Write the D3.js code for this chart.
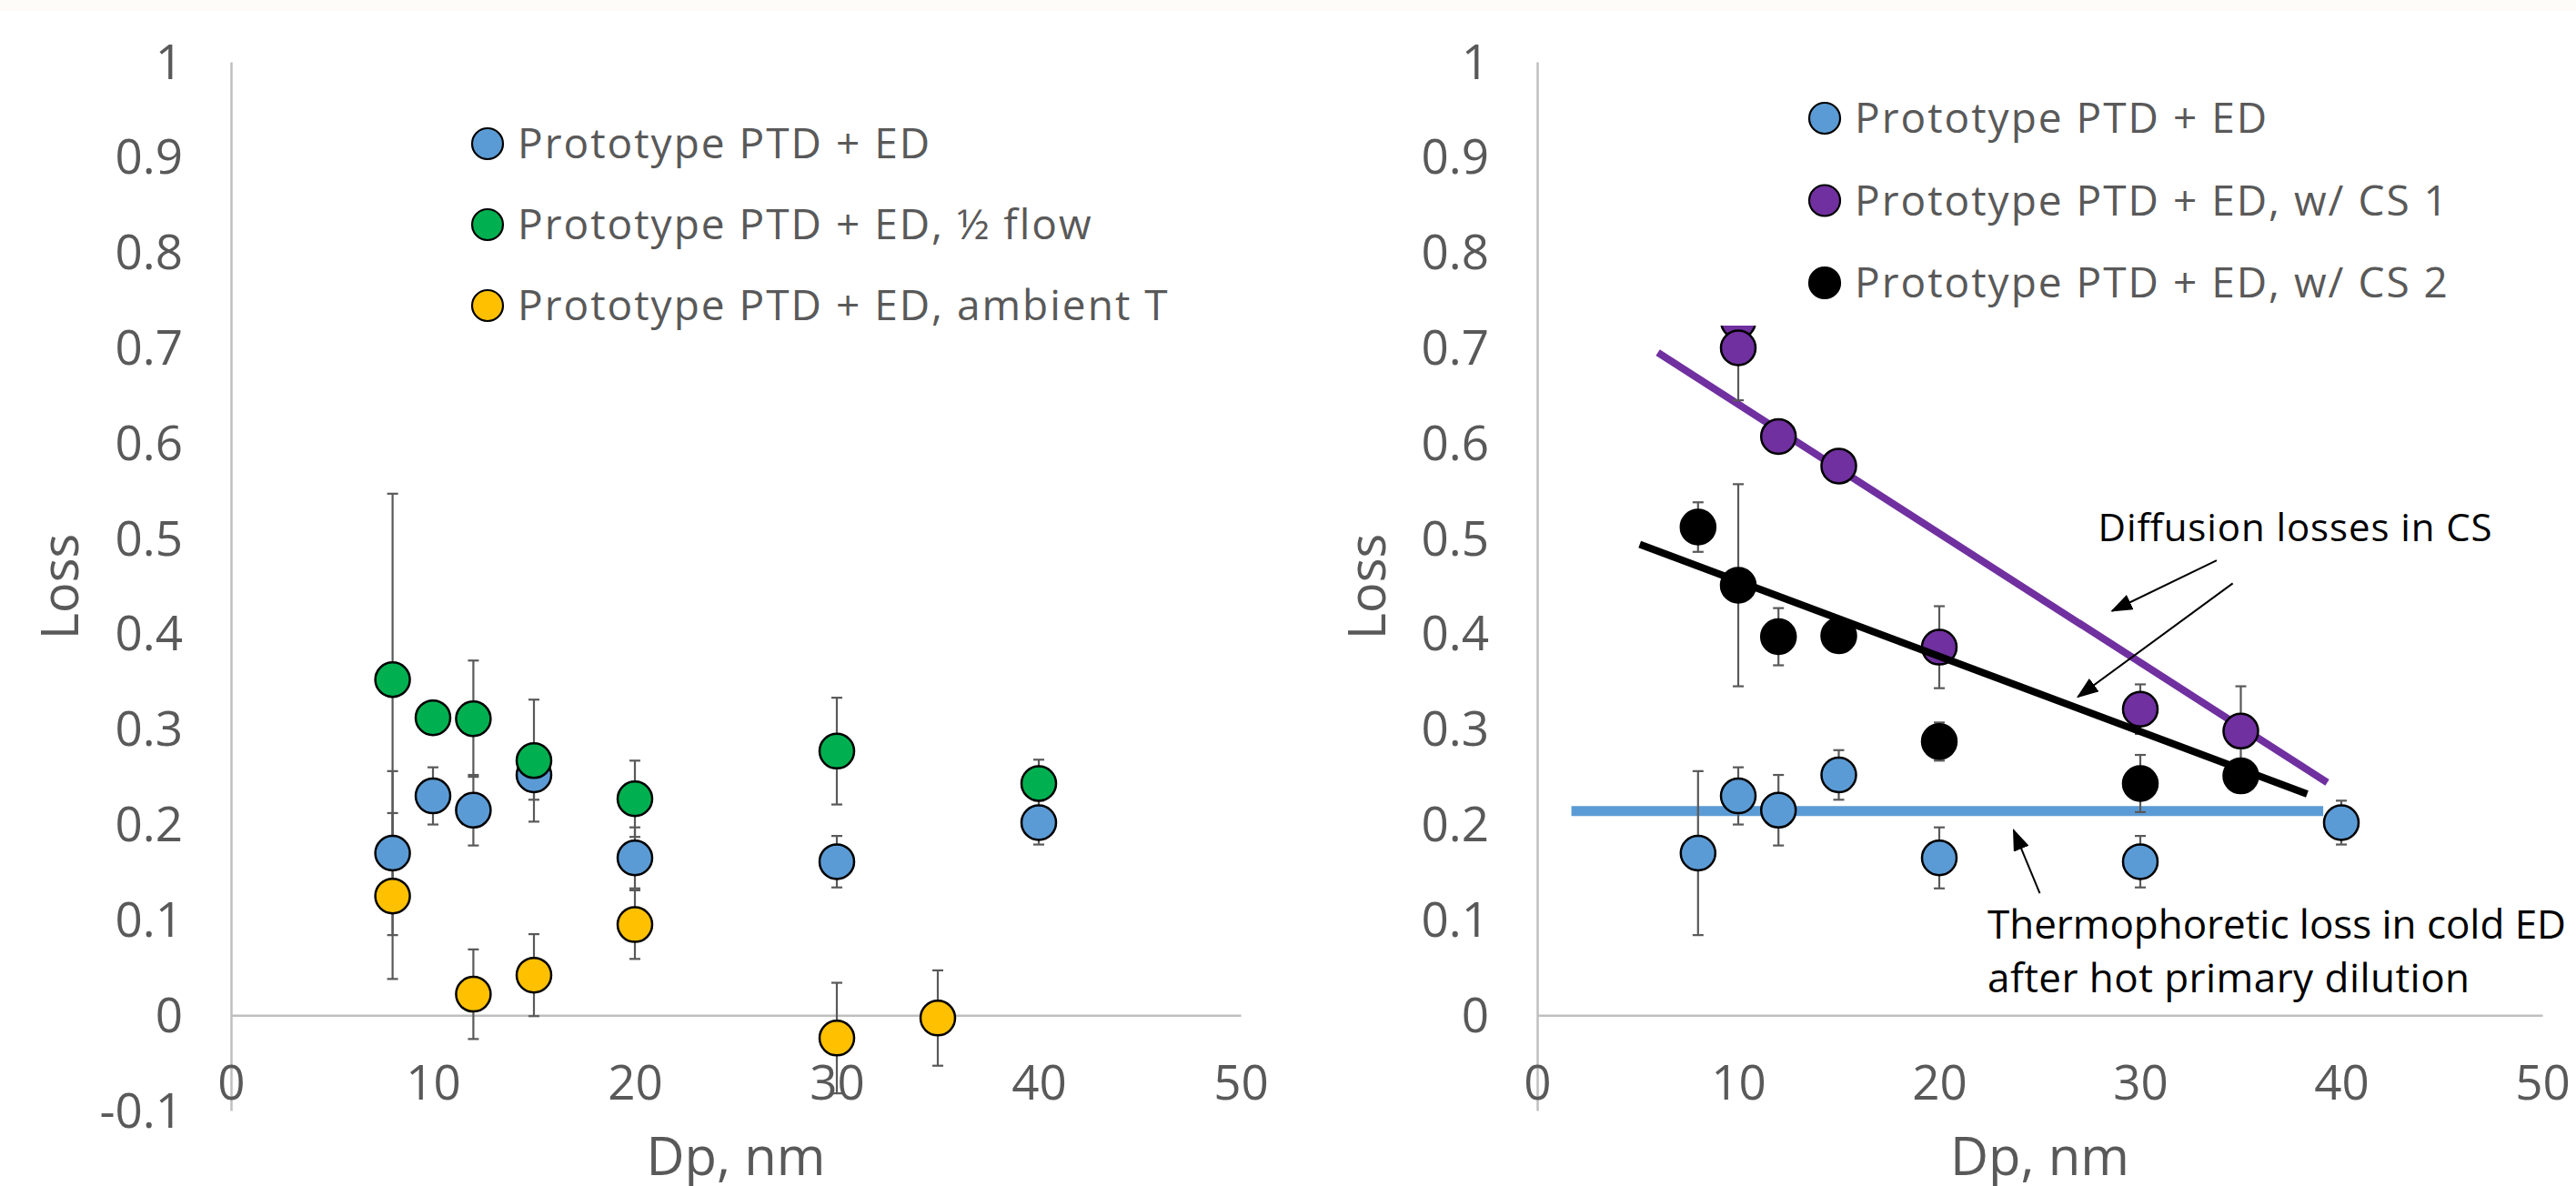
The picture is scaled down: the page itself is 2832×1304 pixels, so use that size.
<!DOCTYPE html>
<html lang="en">
<head>
<meta charset="utf-8" />
<title>Loss vs Dp</title>
<script src="https://d3js.org/d3.v7.min.js"></script>
<style>
    body { margin: 0; background: #fff; }
    svg { display: block; font-family: "Open Sans", sans-serif; }
</style>
</head>
<body>
<script>
    // ---- data ----
    var xTicks = [0, 10, 20, 30, 40, 50];
    var yTicksLeft = [-0.1, 0, 0.1, 0.2, 0.3, 0.4, 0.5, 0.6, 0.7, 0.8, 0.9, 1];
    var yTicksRight = [0, 0.1, 0.2, 0.3, 0.4, 0.5, 0.6, 0.7, 0.8, 0.9, 1];

    // Prototype PTD + ED (same in both panels)
    var blueDp = [8, 10, 12, 15, 20, 30, 40];
    var blueLoss = [0.170, 0.230, 0.215, 0.252, 0.165, 0.161, 0.202];
    var blueErr = [0.086, 0.030, 0.037, 0.026, 0.032, 0.027, 0.023];
    // Prototype PTD + ED, 1/2 flow
    var greenDp = [8, 10, 12, 15, 20, 30, 40];
    var greenLoss = [0.352, 0.312, 0.311, 0.267, 0.227, 0.277, 0.243];
    var greenErr = [0.195, 0.012, 0.061, 0.064, 0.040, 0.056, 0.025];
    // Prototype PTD + ED, ambient T
    var yellowDp = [8, 12, 15, 20, 30, 35];
    var yellowLoss = [0.125, 0.022, 0.042, 0.095, -0.024, -0.003];
    var yellowErr = [0.087, 0.047, 0.043, 0.036, 0.058, 0.050];
    // Prototype PTD + ED, w/ CS 1
    var purpleDp = [10, 10, 12, 15, 20, 30, 35];
    var purpleLoss = [0.728, 0.700, 0.607, 0.576, 0.386, 0.321, 0.298];
    var purpleErr = [0.010, 0.055, 0.012, 0.012, 0.043, 0.026, 0.047];
    // Prototype PTD + ED, w/ CS 2
    var blackDp = [8, 10, 12, 15, 20, 30, 35];
    var blackLoss = [0.512, 0.451, 0.397, 0.398, 0.287, 0.243, 0.251];
    var blackErr = [0.026, 0.106, 0.030, 0.012, 0.020, 0.030, 0.012];

    // hand drawn guide lines on the right panel, [Dp, Loss] end points
    var blueGuide = [[1.7, 0.214], [39.1, 0.214]];
    var purpleGuide = [[6.0, 0.695], [39.3, 0.244]];
    var blackGuide = [[5.1, 0.494], [38.3, 0.232]];

    // annotation arrows, [tail, tip] in Dp / Loss units
    var arrows = [
        [[33.8, 0.477], [28.6, 0.424]],
        [[34.6, 0.453], [26.9, 0.334]],
        [[25.0, 0.128], [23.7, 0.194]]
    ];

    var w = 2832, h = 1304;
    var grey = "#595959";

    function series(dp, loss, err) {
        return dp.map(function (d, i) { return { dp: d, loss: loss[i], err: err[i] }; });
    }

    var svg = d3.select("body").append("svg")
        .attr("width", w)
        .attr("height", h);

    // faint strip at the very top of the page
    svg.append("rect").attr("x", 0).attr("y", 0).attr("width", w).attr("height", 12).attr("fill", "#fdfcf9");

    var defs = svg.append("defs");
    defs.append("marker")
        .attr("id", "arrowhead")
        .attr("markerUnits", "userSpaceOnUse")
        .attr("markerWidth", 24).attr("markerHeight", 18)
        .attr("refX", 22).attr("refY", 9)
        .attr("orient", "auto")
        .append("path")
        .attr("d", "M0,0 L24,9 L0,18 Z")
        .attr("fill", "#000");

    function panel(left, right, yTicks, yLabelX) {
        var x = d3.scaleLinear().domain([0, 50]).range([left, right]);
        var y = d3.scaleLinear().domain([-0.1, 1]).range([1221, 68]);
        var g = svg.append("g");

        // y axis
        var yAxis = d3.axisLeft(y)
            .tickValues(yTicks)
            .tickSize(0)
            .tickPadding(53)
            .tickFormat(function (d) { return String(+d.toFixed(1)); });
        var ya = g.append("g").attr("transform", "translate(" + left + ",0)").call(yAxis);
        ya.select(".domain").attr("stroke", "#bfbfbf").attr("stroke-width", 2.5);
        ya.selectAll("text").attr("font-size", "53px").attr("font-family", "Open Sans").attr("fill", grey).attr("dy", "0.34em");

        // x axis sitting on Loss = 0
        var xAxis = d3.axisBottom(x)
            .tickValues(xTicks)
            .tickSize(0)
            .tickPadding(55);
        var xa = g.append("g").attr("transform", "translate(0," + y(0) + ")").call(xAxis);
        xa.select(".domain").attr("stroke", "#bfbfbf").attr("stroke-width", 2.5);
        xa.selectAll("text").attr("font-size", "53px").attr("font-family", "Open Sans").attr("fill", grey);

        // axis titles
        g.append("text")
            .attr("transform", "translate(" + yLabelX + "," + 645 + ") rotate(-90)")
            .attr("text-anchor", "middle")
            .attr("font-size", "56px")
            .attr("fill", grey)
            .text("Loss");
        g.append("text")
            .attr("x", (left + right) / 2)
            .attr("y", 1292)
            .attr("text-anchor", "middle")
            .attr("font-size", "58px")
            .attr("fill", grey)
            .text("Dp, nm");

        return { g: g, x: x, y: y };
    }

    function errorBars(p, data) {
        var eg = p.g.append("g").attr("stroke", grey).attr("stroke-width", 2.2);
        data.forEach(function (d) {
            var cx = p.x(d.dp), y1 = p.y(d.loss - d.err), y2 = p.y(d.loss + d.err);
            eg.append("line").attr("x1", cx).attr("x2", cx).attr("y1", y1).attr("y2", y2);
            eg.append("line").attr("x1", cx - 6).attr("x2", cx + 6).attr("y1", y1).attr("y2", y1);
            eg.append("line").attr("x1", cx - 6).attr("x2", cx + 6).attr("y1", y2).attr("y2", y2);
        });
    }

    function markers(p, data, color) {
        p.g.append("g").selectAll("circle")
            .data(data)
            .enter()
            .append("circle")
            .attr("cx", function (d) { return p.x(d.dp); })
            .attr("cy", function (d) { return p.y(d.loss); })
            .attr("r", 19)
            .attr("fill", color)
            .attr("stroke", "#000")
            .attr("stroke-width", 2.5);
    }

    function guide(p, pts, color, width) {
        p.g.append("path")
            .attr("d", d3.line().x(function (d) { return p.x(d[0]); }).y(function (d) { return p.y(d[1]); })(pts))
            .attr("fill", "none")
            .attr("stroke", color)
            .attr("stroke-width", width);
    }

    function legend(p, x0, y0, step, items) {
        var lg = p.g.append("g");
        items.forEach(function (it, i) {
            lg.append("circle")
                .attr("cx", x0).attr("cy", y0 + i * step).attr("r", 17)
                .attr("fill", it[1]).attr("stroke", "#000").attr("stroke-width", 2.2);
            lg.append("text")
                .attr("x", x0 + 33).attr("y", y0 + i * step + 16)
                .attr("font-size", "46px").attr("letter-spacing", "2px").attr("fill", grey)
                .text(it[0]);
        });
    }

    var blue = series(blueDp, blueLoss, blueErr);
    var green = series(greenDp, greenLoss, greenErr);
    var yellow = series(yellowDp, yellowLoss, yellowErr);
    var purple = series(purpleDp, purpleLoss, purpleErr);
    var black = series(blackDp, blackLoss, blackErr);

    // ---- left panel ----
    var L = panel(254, 1364, yTicksLeft, 86);
    errorBars(L, blue); errorBars(L, green); errorBars(L, yellow);
    markers(L, blue, "#5b9bd5");
    markers(L, green, "#00b050");
    markers(L, yellow, "#ffc000");
    legend(L, 536, 158, 89, [
        ["Prototype PTD + ED", "#5b9bd5"],
        ["Prototype PTD + ED, \u00bd flow", "#00b050"],
        ["Prototype PTD + ED, ambient T", "#ffc000"]
    ]);

    // ---- right panel ----
    var R = panel(1690, 2795, yTicksRight, 1523);
    guide(R, blueGuide, "#5b9bd5", 11);
    guide(R, purpleGuide, "#7030a0", 8);
    errorBars(R, blue); errorBars(R, purple); errorBars(R, black);
    markers(R, blue, "#5b9bd5");
    markers(R, purple, "#7030a0");
    markers(R, black, "#000");
    guide(R, blackGuide, "#000", 8);

    // annotations
    arrows.forEach(function (a) {
        R.g.append("line")
            .attr("x1", R.x(a[0][0])).attr("y1", R.y(a[0][1]))
            .attr("x2", R.x(a[1][0])).attr("y2", R.y(a[1][1]))
            .attr("stroke", "#000").attr("stroke-width", 2)
            .attr("marker-end", "url(#arrowhead)");
    });
    R.g.append("text")
        .attr("x", R.x(27.9)).attr("y", R.y(0.497))
        .attr("font-size", "42px").attr("fill", "#000")
        .attr("textLength", 433).attr("lengthAdjust", "spacing")
        .text("Diffusion losses in CS");
    R.g.append("text")
        .attr("x", R.x(22.4)).attr("y", R.y(0.0805))
        .attr("font-size", "44px").attr("fill", "#000")
        .attr("textLength", 636).attr("lengthAdjust", "spacing")
        .text("Thermophoretic loss in cold ED");
    R.g.append("text")
        .attr("x", R.x(22.4)).attr("y", R.y(0.0805) + 59)
        .attr("font-size", "44px").attr("fill", "#000")
        .attr("textLength", 530).attr("lengthAdjust", "spacing")
        .text("after hot primary dilution");

    // legend box sits over the plot and hides what is behind it
    R.g.append("rect")
        .attr("x", 1880).attr("y", 72)
        .attr("width", 840).attr("height", 286)
        .attr("fill", "#fff");
    legend(R, 2006, 130, 90.5, [
        ["Prototype PTD + ED", "#5b9bd5"],
        ["Prototype PTD + ED, w/ CS 1", "#7030a0"],
        ["Prototype PTD + ED, w/ CS 2", "#000"]
    ]);
</script>
</body>
</html>
